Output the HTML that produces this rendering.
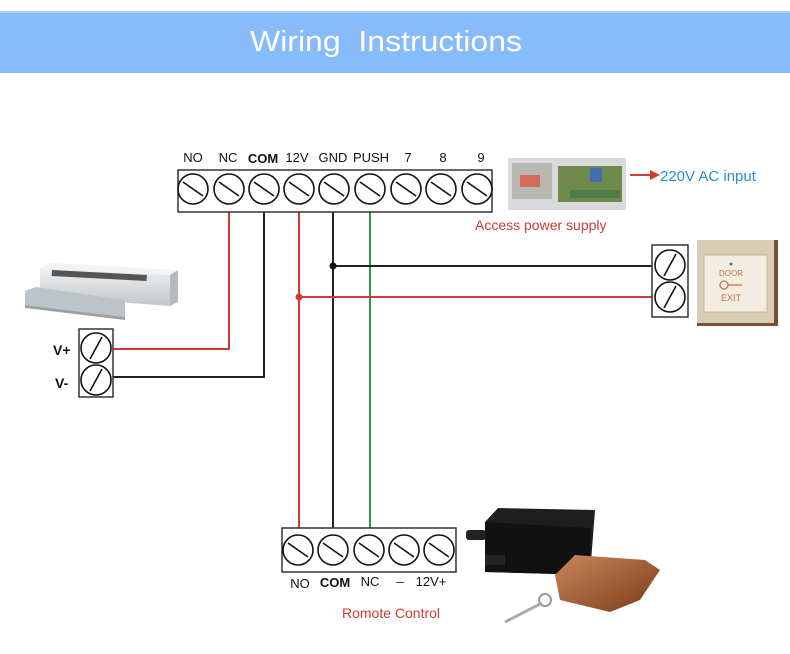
<!DOCTYPE html>
<html><head><meta charset="utf-8"><style>
body{margin:0;background:#fff;width:790px;height:654px;overflow:hidden}
svg{display:block}
</style></head><body>
<svg width="790" height="654" viewBox="0 0 790 654" xmlns="http://www.w3.org/2000/svg" font-family="Liberation Sans, sans-serif">
<defs>
<g id="scr"><circle r="15" fill="#fff" stroke="#111" stroke-width="1.6"/><line x1="-10" y1="-7" x2="10" y2="7" stroke="#111" stroke-width="1.6"/></g>
<g id="scr2"><circle r="15" fill="#fff" stroke="#111" stroke-width="1.6"/><line x1="-6" y1="11" x2="6" y2="-11" stroke="#111" stroke-width="1.6"/></g>
<linearGradient id="alu" x1="0" y1="0" x2="0" y2="1"><stop offset="0" stop-color="#eef0f2"/><stop offset="1" stop-color="#c4c8cc"/></linearGradient>
<linearGradient id="fob" x1="0" y1="0" x2="1" y2="1"><stop offset="0" stop-color="#c9885a"/><stop offset="1" stop-color="#7a3a1a"/></linearGradient>
</defs>
<rect x="0" y="12" width="790" height="61" fill="#88bbfb"/>
<rect x="0" y="11" width="790" height="2" fill="#a8cefc"/>
<text x="250" y="51" font-size="29" fill="#fff" textLength="272" lengthAdjust="spacingAndGlyphs" xml:space="preserve">Wiring  Instructions</text>

<g fill="none" stroke-width="2">
<polyline points="229,204 229,349 110,349" stroke="#d23a34"/>
<polyline points="264,204 264,377 110,377" stroke="#222"/>
<line x1="299" y1="204" x2="299" y2="540" stroke="#d23a34"/>
<line x1="333" y1="204" x2="333" y2="540" stroke="#222"/>
<line x1="370" y1="204" x2="370" y2="540" stroke="#2a9a4a"/>
<line x1="333" y1="266" x2="668" y2="266" stroke="#222"/>
<line x1="299" y1="297" x2="668" y2="297" stroke="#d23a34"/>
</g>
<circle cx="333" cy="266" r="3.5" fill="#111"/>
<circle cx="299" cy="297" r="3.5" fill="#d23a34"/>

<rect x="178" y="170" width="314" height="42" fill="#fff" stroke="#333" stroke-width="1.5"/>
<g><use href="#scr" x="193" y="189"/><use href="#scr" x="229" y="189"/><use href="#scr" x="264" y="189"/><use href="#scr" x="299" y="189"/><use href="#scr" x="334" y="189"/><use href="#scr" x="370" y="189"/><use href="#scr" x="406" y="189"/><use href="#scr" x="441" y="189"/><use href="#scr" x="477" y="189"/></g>
<g font-size="13" fill="#111" text-anchor="middle">
<text x="193" y="162">NO</text><text x="228" y="162">NC</text><text x="263" y="163" font-weight="bold">COM</text><text x="297" y="162">12V</text><text x="333" y="162">GND</text><text x="371" y="162">PUSH</text><text x="408" y="162">7</text><text x="443" y="162">8</text><text x="481" y="162">9</text>
</g>

<rect x="508" y="158" width="118" height="52" fill="#d8dadc" rx="2"/>
<rect x="512" y="163" width="40" height="36" fill="#b8b8b0"/>
<rect x="520" y="175" width="20" height="12" fill="#d46a5a"/>
<rect x="558" y="166" width="64" height="36" fill="#6f8a4a"/>
<rect x="590" y="168" width="12" height="14" fill="#3f6fb0"/>
<rect x="570" y="190" width="50" height="8" fill="#4f7a4a"/>
<line x1="630" y1="175" x2="652" y2="175" stroke="#d23a34" stroke-width="2"/>
<polygon points="650,170 660,175 650,180" fill="#d23a34"/>
<text x="660" y="181" font-size="15" fill="#2a8fd0">220V AC input</text>
<text x="475" y="230" font-size="14" fill="#d23a34">Access power supply</text>

<polygon points="40,268 170,275 170,306 40,296" fill="url(#alu)"/>
<polygon points="40,268 50,263 178,270 170,275" fill="#f2f3f4"/>
<polygon points="170,275 178,270 178,302 170,306" fill="#b6babe"/>
<rect x="52" y="270" width="95" height="6" fill="#555" transform="rotate(3 52 270)"/>
<polygon points="25,291 36,287 125,300 125,317 25,305" fill="#bcc4c8"/>
<polygon points="25,305 125,317 125,320 25,308" fill="#9aa2a6"/>

<rect x="79" y="329" width="34" height="68" fill="#fff" stroke="#333" stroke-width="1.5"/>
<use href="#scr2" x="96" y="348"/><use href="#scr2" x="96" y="380"/>
<text x="53" y="355" font-size="14" font-weight="bold" fill="#111">V+</text>
<text x="55" y="388" font-size="14" font-weight="bold" fill="#111">V-</text>

<rect x="652" y="245" width="36" height="72" fill="#fff" stroke="#333" stroke-width="1.5"/>
<use href="#scr2" x="670" y="265"/><use href="#scr2" x="670" y="297"/>

<rect x="697" y="240" width="81" height="86" fill="#7a5030"/>
<rect x="697" y="240" width="77" height="83" fill="#d9cdb5"/>
<rect x="704" y="255" width="63" height="57" fill="#f3ece0" stroke="#c8b898"/>
<circle cx="731" cy="264" r="1.5" fill="#3a7a7a"/>
<text x="731" y="276" font-size="8" fill="#b8744a" text-anchor="middle">DOOR</text>
<circle cx="724" cy="285" r="4" fill="none" stroke="#c8744a" stroke-width="1.3"/>
<line x1="728" y1="285" x2="742" y2="285" stroke="#c8744a" stroke-width="1.3"/>
<text x="731" y="301" font-size="9" fill="#b8744a" text-anchor="middle">EXIT</text>

<rect x="282" y="528" width="174" height="44" fill="#fff" stroke="#333" stroke-width="1.5"/>
<use href="#scr" x="298" y="550"/><use href="#scr" x="333" y="550"/><use href="#scr" x="369" y="550"/><use href="#scr" x="404" y="550"/><use href="#scr" x="439" y="550"/>
<g font-size="13" fill="#111" text-anchor="middle">
<text x="300" y="588">NO</text><text x="335" y="587" font-weight="bold">COM</text><text x="370" y="586">NC</text><text x="400" y="586">–</text><text x="431" y="586">12V+</text>
</g>
<text x="342" y="618" font-size="14" fill="#d23a34">Romote Control</text>

<polygon points="485,522 498,508 595,510 590,575 485,572" fill="#1e1e20"/>
<polygon points="485,522 590,528 590,575 485,572" fill="#111"/>
<rect x="466" y="530" width="20" height="10" fill="#222" rx="3"/>
<rect x="485" y="555" width="20" height="10" fill="#222"/>
<polygon points="555,575 575,555 645,560 660,570 640,600 610,612 560,600" fill="url(#fob)"/>
<circle cx="545" cy="600" r="6" fill="none" stroke="#999" stroke-width="2"/>
<line x1="505" y1="622" x2="542" y2="603" stroke="#aaa" stroke-width="3"/>
</svg>
</body></html>
